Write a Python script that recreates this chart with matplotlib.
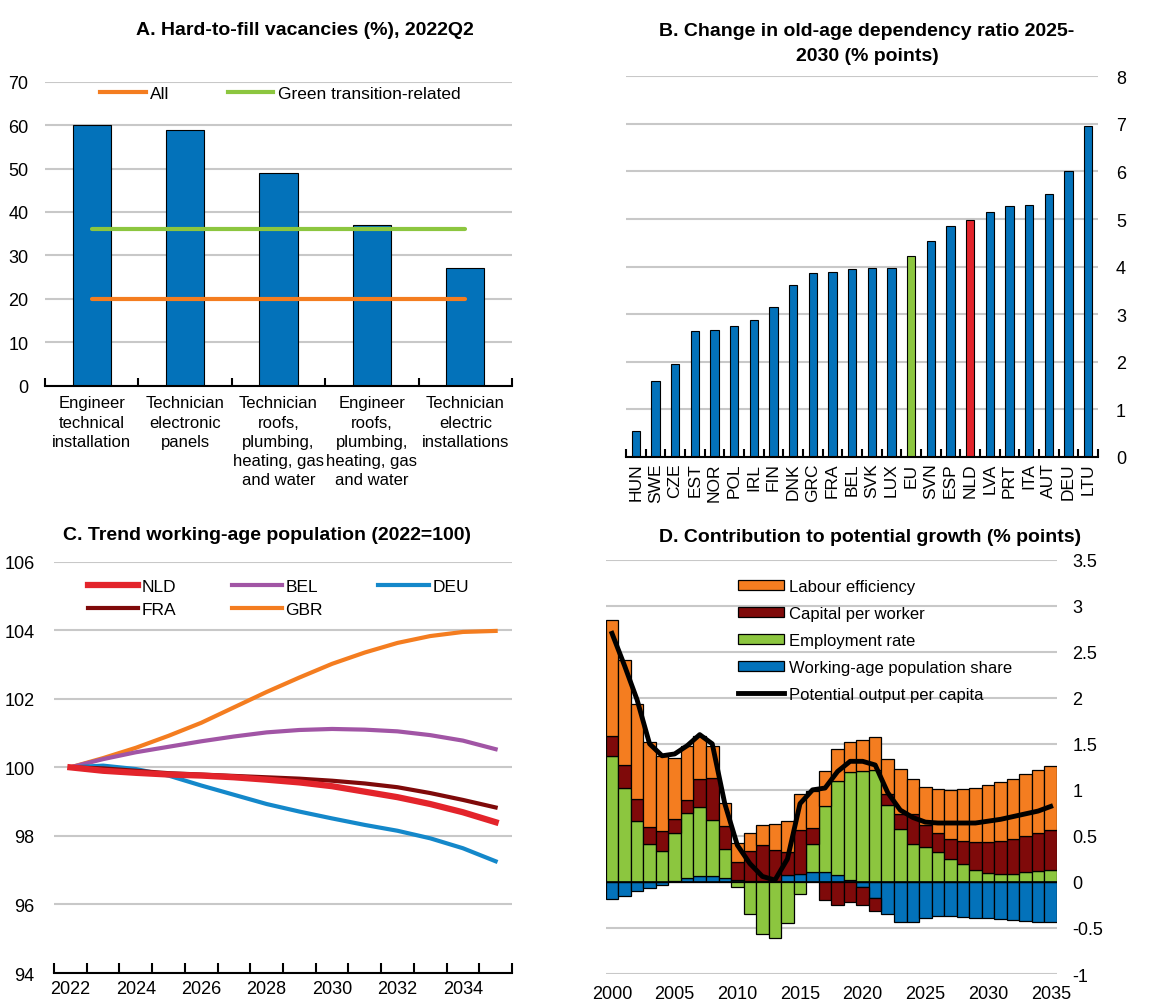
import numpy as np
import matplotlib
matplotlib.use("Agg")
import matplotlib.pyplot as plt
from matplotlib.patches import Patch
from matplotlib.lines import Line2D

plt.rcParams['font.family'] = ['Liberation Sans', 'DejaVu Sans']
plt.rcParams['font.size'] = 12

# ---- data ----
# A. Hard-to-fill vacancies
vac_labels = ["Engineer\ntechnical\ninstallation", "Technician\nelectronic\npanels",
              "Technician\nroofs,\nplumbing,\nheating, gas\nand water",
              "Engineer\nroofs,\nplumbing,\nheating, gas\nand water",
              "Technician\nelectric\ninstallations"]
vac_values = [60, 59, 49, 37, 27]
vac_all = 20
vac_green = 36

# B. Change in old-age dependency ratio
oad_countries = ["HUN", "SWE", "CZE", "EST", "NOR", "POL", "IRL", "FIN", "DNK", "GRC", "FRA", "BEL",
                 "SVK", "LUX", "EU", "SVN", "ESP", "NLD", "LVA", "PRT", "ITA", "AUT", "DEU", "LTU"]
oad_values = [0.54, 1.6, 1.95, 2.65, 2.67, 2.76, 2.88, 3.15, 3.62, 3.86, 3.88, 3.96,
              3.97, 3.97, 4.23, 4.54, 4.85, 4.98, 5.14, 5.28, 5.30, 5.53, 6.02, 6.96]

# C. Trend working-age population (2022=100)
pop_years = list(range(2022, 2036))
pop_nld = [100, 99.9, 99.84, 99.79, 99.76, 99.71, 99.64, 99.56, 99.45, 99.29, 99.13, 98.93, 98.69, 98.4]
pop_fra = [100, 99.97, 99.9, 99.83, 99.79, 99.75, 99.71, 99.67, 99.61, 99.53, 99.42, 99.25, 99.05, 98.83]
pop_bel = [100, 100.24, 100.44, 100.6, 100.76, 100.9, 101.02, 101.09, 101.12, 101.1, 101.05, 100.94, 100.78, 100.53]
pop_gbr = [100, 100.27, 100.57, 100.92, 101.3, 101.75, 102.2, 102.62, 103.02, 103.35, 103.63, 103.83, 103.95, 103.98]
pop_deu = [100, 100.05, 99.95, 99.76, 99.47, 99.2, 98.93, 98.71, 98.51, 98.32, 98.15, 97.93, 97.64, 97.26]

# D. Contribution to potential growth
gr_years = list(range(2000, 2036))
gr_wap = [-0.19, -0.15, -0.10, -0.065, -0.035, 0.01, 0.04, 0.06, 0.06, 0.04, 0.02, 0.01, 0.01, 0.01,
          0.07, 0.09, 0.11, 0.11, 0.08, 0.02, -0.05, -0.17, -0.35, -0.44, -0.43, -0.39, -0.37, -0.37,
          -0.38, -0.39, -0.39, -0.40, -0.41, -0.42, -0.43, -0.43]
gr_emp = [1.37, 1.02, 0.66, 0.41, 0.34, 0.52, 0.71, 0.75, 0.61, 0.32, -0.05, -0.35, -0.56, -0.61,
          -0.45, -0.13, 0.30, 0.71, 1.02, 1.17, 1.21, 1.22, 0.84, 0.58, 0.41, 0.38, 0.33, 0.25,
          0.19, 0.13, 0.10, 0.09, 0.09, 0.11, 0.12, 0.13]
gr_cap = [0.22, 0.25, 0.24, 0.19, 0.21, 0.15, 0.14, 0.31, 0.46, 0.25, 0.20, 0.33, 0.39, 0.34,
          0.25, 0.47, 0.18, -0.20, -0.25, -0.22, -0.20, -0.15, 0.11, 0.16, 0.33, 0.24, 0.20, 0.22,
          0.26, 0.30, 0.33, 0.35, 0.38, 0.39, 0.41, 0.43]
gr_lab = [1.26, 1.14, 1.03, 0.92, 0.82, 0.67, 0.59, 0.46, 0.35, 0.25, 0.20, 0.19, 0.22, 0.28,
          0.34, 0.39, 0.40, 0.39, 0.34, 0.33, 0.33, 0.35, 0.38, 0.49, 0.38, 0.41, 0.48, 0.53,
          0.56, 0.59, 0.62, 0.64, 0.65, 0.67, 0.69, 0.70]
gr_pot = [2.70, 2.35, 1.98, 1.50, 1.37, 1.39, 1.48, 1.60, 1.50, 0.85, 0.40, 0.20, 0.06, 0.02,
          0.25, 0.85, 1.00, 1.02, 1.20, 1.31, 1.31, 1.27, 0.97, 0.78, 0.70, 0.65, 0.64, 0.64,
          0.64, 0.64, 0.66, 0.68, 0.71, 0.74, 0.77, 0.82]

BLUE = '#0372BA'
ORANGE = '#F47D20'
GREEN = '#8CC63F'
RED = '#E3242B'
DARKRED = '#7F0A0A'
PURPLE = '#A155A5'
LBLUE = '#1488CA'
GRID = '#C8C8C8'
TITLE_FONT = dict(fontweight='bold', fontsize=14)

fig = plt.figure(figsize=(11.5, 10.03), dpi=100)


def style_axes(ax):
    for s in ['top', 'left', 'right']:
        ax.spines[s].set_visible(False)
    ax.spines['bottom'].set_color('black')
    ax.spines['bottom'].set_linewidth(1.5)
    ax.grid(axis='y', color=GRID, linewidth=1.5)
    ax.set_axisbelow(True)


# ---- Panel A ----
axA = fig.add_axes([0.0391, 0.6145, 0.4061, 0.3030])
style_axes(axA)
xa = np.arange(len(vac_values))
axA.bar(xa, vac_values, width=0.41, color=BLUE, edgecolor='black', linewidth=0.8, zorder=2)
axA.plot([xa[0], xa[-1]], [vac_all, vac_all], color=ORANGE, lw=3, solid_capstyle='round', zorder=3)
axA.plot([xa[0], xa[-1]], [vac_green, vac_green], color=GREEN, lw=3, solid_capstyle='round', zorder=3)
axA.set_xlim(-0.5, len(vac_values) - 0.5)
axA.set_ylim(0, 70)
axA.set_yticks(np.arange(0, 71, 10))
axA.set_yticklabels([str(v) for v in range(0, 71, 10)], fontsize=13)
axA.set_xticks(np.arange(-0.5, len(vac_values)), minor=False)
axA.set_xticklabels([])
axA.set_xticks(xa, minor=True)
axA.set_xticklabels(vac_labels, minor=True, fontsize=12, linespacing=1.35)
axA.tick_params(axis='x', which='major', direction='in', length=6, width=1.5)
axA.tick_params(axis='x', which='minor', length=0, pad=7)
axA.tick_params(axis='y', length=0, pad=12)
axA.legend(handles=[Line2D([], [], color=ORANGE, lw=3), Line2D([], [], color=GREEN, lw=3)],
           labels=['All', 'Green transition-related'], ncol=2, frameon=False,
           loc='upper left', bbox_to_anchor=(0.104, 1.01), handlelength=2.6,
           handletextpad=0.25, columnspacing=3.4, borderaxespad=0, fontsize=12.5)
fig.text(0.265, 0.970, 'A. Hard-to-fill vacancies (%), 2022Q2', ha='center', va='center', **TITLE_FONT)

# ---- Panel B ----
axB = fig.add_axes([0.5443, 0.5434, 0.4105, 0.3795])
style_axes(axB)
xb = np.arange(len(oad_values))
colsB = [GREEN if c == 'EU' else RED if c == 'NLD' else BLUE for c in oad_countries]
axB.bar(xb, oad_values, width=0.42, color=colsB, edgecolor='black', linewidth=0.8, zorder=2)
axB.set_xlim(-0.5, len(oad_values) - 0.5)
axB.set_ylim(0, 8)
axB.set_yticks(np.arange(0, 9, 1))
axB.set_yticklabels([str(v) for v in range(0, 9)], fontsize=13)
axB.yaxis.tick_right()
axB.tick_params(axis='y', length=0, pad=13)
axB.set_xticks(np.arange(-0.5, len(oad_values)))
axB.set_xticklabels([])
axB.set_xticks(xb, minor=True)
axB.set_xticklabels(oad_countries, minor=True, rotation=90, fontsize=12.5)
axB.tick_params(axis='x', which='major', direction='in', length=6, width=1.5)
axB.tick_params(axis='x', which='minor', length=0, pad=4)
fig.text(0.754, 0.956, 'B. Change in old-age dependency ratio 2025-\n2030 (% points)',
         ha='center', va='center', linespacing=1.65, **TITLE_FONT)

# ---- Panel C ----
axC = fig.add_axes([0.047, 0.0289, 0.3982, 0.4101])
style_axes(axC)
axC.plot(pop_years, pop_gbr, color=ORANGE, lw=3, label='GBR')
axC.plot(pop_years, pop_bel, color=PURPLE, lw=3, label='BEL')
axC.plot(pop_years, pop_deu, color=LBLUE, lw=3, label='DEU')
axC.plot(pop_years, pop_fra, color=DARKRED, lw=3, label='FRA')
axC.plot(pop_years, pop_nld, color=RED, lw=4.5, label='NLD')
axC.set_xlim(pop_years[0] - 0.5, pop_years[-1] + 0.5)
axC.set_ylim(94, 106)
axC.set_yticks(np.arange(94, 107, 2))
axC.set_yticklabels([str(v) for v in range(94, 107, 2)], fontsize=13)
axC.tick_params(axis='y', length=0, pad=14)
axC.set_xticks(np.arange(pop_years[0] - 0.5, pop_years[-1] + 1))
axC.set_xticklabels([])
axC.set_xticks(pop_years[::2], minor=True)
axC.set_xticklabels([str(y) for y in pop_years[::2]], minor=True, fontsize=13)
axC.tick_params(axis='x', which='major', direction='in', length=7, width=1.5)
axC.tick_params(axis='x', which='minor', length=0, pad=5)
hC, lC = axC.get_legend_handles_labels()
order = ['NLD', 'FRA', 'BEL', 'GBR', 'DEU']
hmap = dict(zip(lC, hC))
axC.legend([hmap[k] for k in order], order, ncol=3, frameon=False, loc='upper left',
           bbox_to_anchor=(0.058, 0.975), handlelength=2.9, handletextpad=0.2,
           columnspacing=3.2, labelspacing=0.45, borderaxespad=0, fontsize=12.5)
fig.text(0.232, 0.466, 'C. Trend working-age population (2022=100)', ha='center', va='center', **TITLE_FONT)

# ---- Panel D ----
axD = fig.add_axes([0.5267, 0.0279, 0.3924, 0.4131])
for s in ['top', 'left', 'right', 'bottom']:
    axD.spines[s].set_visible(False)
axD.grid(axis='y', color=GRID, linewidth=1.5)
axD.set_axisbelow(True)
series = [(gr_wap, BLUE, 'Working-age population share'),
          (gr_emp, GREEN, 'Employment rate'),
          (gr_cap, DARKRED, 'Capital per worker'),
          (gr_lab, ORANGE, 'Labour efficiency')]
pos_base = np.zeros(len(gr_years))
neg_base = np.zeros(len(gr_years))
for vals, col, lab in series:
    v = np.array(vals)
    bottom = np.where(v >= 0, pos_base, neg_base)
    axD.bar(gr_years, v, bottom=bottom, width=1.0, color=col, edgecolor='black', linewidth=0.9, zorder=2)
    pos_base = pos_base + np.where(v >= 0, v, 0)
    neg_base = neg_base + np.where(v < 0, v, 0)
axD.axhline(0, color='black', lw=1.2, zorder=2.5)
axD.plot(gr_years, gr_pot, color='black', lw=3.5, zorder=4)
axD.set_xlim(gr_years[0] - 0.5, gr_years[-1] + 0.5)
axD.set_ylim(-1, 3.5)
axD.set_yticks(np.arange(-1, 3.6, 0.5))
axD.set_yticklabels(['-1', '-0.5', '0', '0.5', '1', '1.5', '2', '2.5', '3', '3.5'], fontsize=13)
axD.yaxis.tick_right()
axD.tick_params(axis='y', length=0, pad=11)
axD.set_xticks(gr_years[::5])
axD.set_xticklabels([str(y) for y in gr_years[::5]], fontsize=13)
axD.tick_params(axis='x', length=0, pad=8)
legD = [Patch(facecolor=ORANGE, edgecolor='black', lw=0.9),
        Patch(facecolor=DARKRED, edgecolor='black', lw=0.9),
        Patch(facecolor=GREEN, edgecolor='black', lw=0.9),
        Patch(facecolor=BLUE, edgecolor='black', lw=0.9),
        Line2D([], [], color='black', lw=3.5)]
axD.legend(legD, ['Labour efficiency', 'Capital per worker', 'Employment rate',
                  'Working-age population share', 'Potential output per capita'],
           frameon=False, loc='upper left', bbox_to_anchor=(0.278, 0.97),
           handlelength=2.8, handleheight=0.6, handletextpad=0.3, labelspacing=0.72,
           borderaxespad=0, fontsize=12)
fig.text(0.757, 0.464, 'D. Contribution to potential growth (% points)', ha='center', va='center', **TITLE_FONT)

fig.savefig('out.png', dpi=100)
